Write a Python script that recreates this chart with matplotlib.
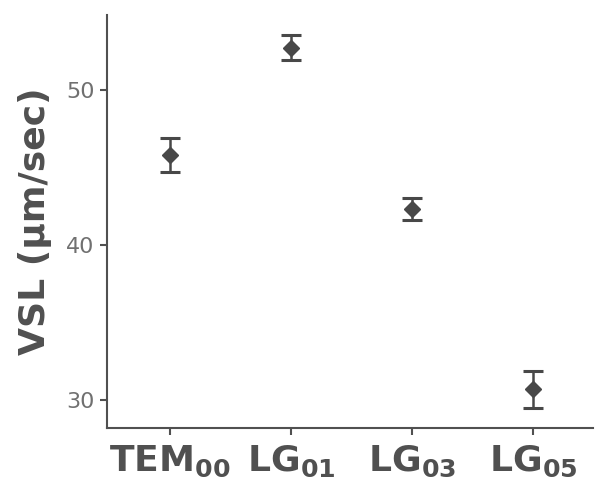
import matplotlib
matplotlib.use("Agg")
import matplotlib.pyplot as plt

categories = [r"TEM$_{\mathbf{00}}$", r"LG$_{\mathbf{01}}$", r"LG$_{\mathbf{03}}$", r"LG$_{\mathbf{05}}$"]
vsl_mean = [45.8, 52.7, 42.3, 30.7]
vsl_err = [1.1, 0.8, 0.7, 1.2]
y_ticks = [30, 40, 50]

fig = plt.figure(figsize=(5.97, 4.86), dpi=100)
ax = fig.add_axes([0.179, 0.119, 0.814, 0.850])

x = list(range(1, len(categories) + 1))
col = "#484848"
ax.errorbar(x, vsl_mean, yerr=vsl_err, fmt="D", color=col, ms=8, mec=col,
            elinewidth=1.8, capsize=7, capthick=2.2)

ax.set_xlim(0.48, 4.49)
ax.set_ylim(28.2, 54.8)
ax.set_xticks(x)
ax.set_xticklabels(categories)
ax.set_yticks(y_ticks)

for s in ["top", "right"]:
    ax.spines[s].set_visible(False)
for s in ["left", "bottom"]:
    ax.spines[s].set_color("#505050")
    ax.spines[s].set_linewidth(1.5)

ax.tick_params(axis="both", direction="out", length=5, width=1.5, color="#505050")
ax.tick_params(axis="y", labelsize=16, labelcolor="#707070", pad=4)
ax.tick_params(axis="x", labelsize=26, labelcolor="#505050", pad=6)
for lab in ax.get_xticklabels():
    lab.set_fontweight("bold")

ax.set_ylabel("VSL (µm/sec)", fontsize=26, fontweight="bold", color="#505050",
              labelpad=10)

fig.savefig("out.png", dpi=100)
